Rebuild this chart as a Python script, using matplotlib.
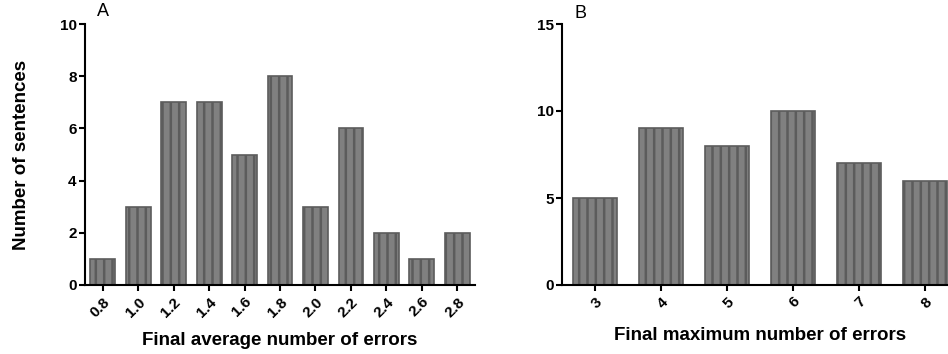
import numpy as np
import matplotlib.pyplot as plt

plt.rcParams['font.family'] = ['Liberation Sans', 'DejaVu Sans']
plt.rcParams['hatch.linewidth'] = 1.8
plt.rcParams['hatch.color'] = '#626262'

# panel A
avg_labels = ['0.8', '1.0', '1.2', '1.4', '1.6', '1.8', '2.0', '2.2', '2.4', '2.6', '2.8']
avg_counts = [1, 3, 7, 7, 5, 8, 3, 6, 2, 1, 2]

# panel B
max_labels = ['3', '4', '5', '6', '7', '8']
max_counts = [5, 9, 8, 10, 7, 6]

fig = plt.figure(figsize=(9.48, 3.54), dpi=100)
axA = fig.add_axes([85/948, 69/354, 390/948, 261/354])
axB = fig.add_axes([562/948, 69/354, 396/948, 261/354])


def style(ax, labels, counts, ymax, yticks, width):
    x = np.arange(len(labels))
    ax.bar(x, counts, width=width, color='#808080', edgecolor='#5c5c5c',
           linewidth=1.2, hatch='||')
    ax.set_xlim(-0.5, len(labels) - 0.5)
    ax.set_ylim(0, ymax)
    ax.set_yticks(yticks)
    ax.set_xticks(x)
    ax.set_xticklabels(labels, rotation=45, ha='right', rotation_mode='anchor',
                       fontsize=11, fontweight='bold')
    for t in ax.get_yticklabels():
        t.set_fontsize(11)
        t.set_fontweight('bold')
    for s in ['top', 'right']:
        ax.spines[s].set_visible(False)
    for s in ['left', 'bottom']:
        ax.spines[s].set_linewidth(1.5)
    ax.tick_params(direction='out', length=4, width=1.5, pad=2)
    ax.tick_params(axis='x', pad=3)


style(axA, avg_labels, avg_counts, 10, [0, 2, 4, 6, 8, 10], 0.7)
style(axB, max_labels, max_counts, 15, [0, 5, 10, 15], 0.67)

axA.set_xlabel('Final average number of errors', fontsize=13.5, fontweight='bold', labelpad=9)
axB.set_xlabel('Final maximum number of errors', fontsize=13.5, fontweight='bold', labelpad=12)
axA.set_ylabel('Number of sentences', fontsize=13.5, fontweight='bold', labelpad=21)

fig.text(97/948, 1 - 12/354, 'A', fontsize=13, va='center')
fig.text(575/948, 1 - 14/354, 'B', fontsize=13, va='center')

fig.savefig('out.png', dpi=100)
